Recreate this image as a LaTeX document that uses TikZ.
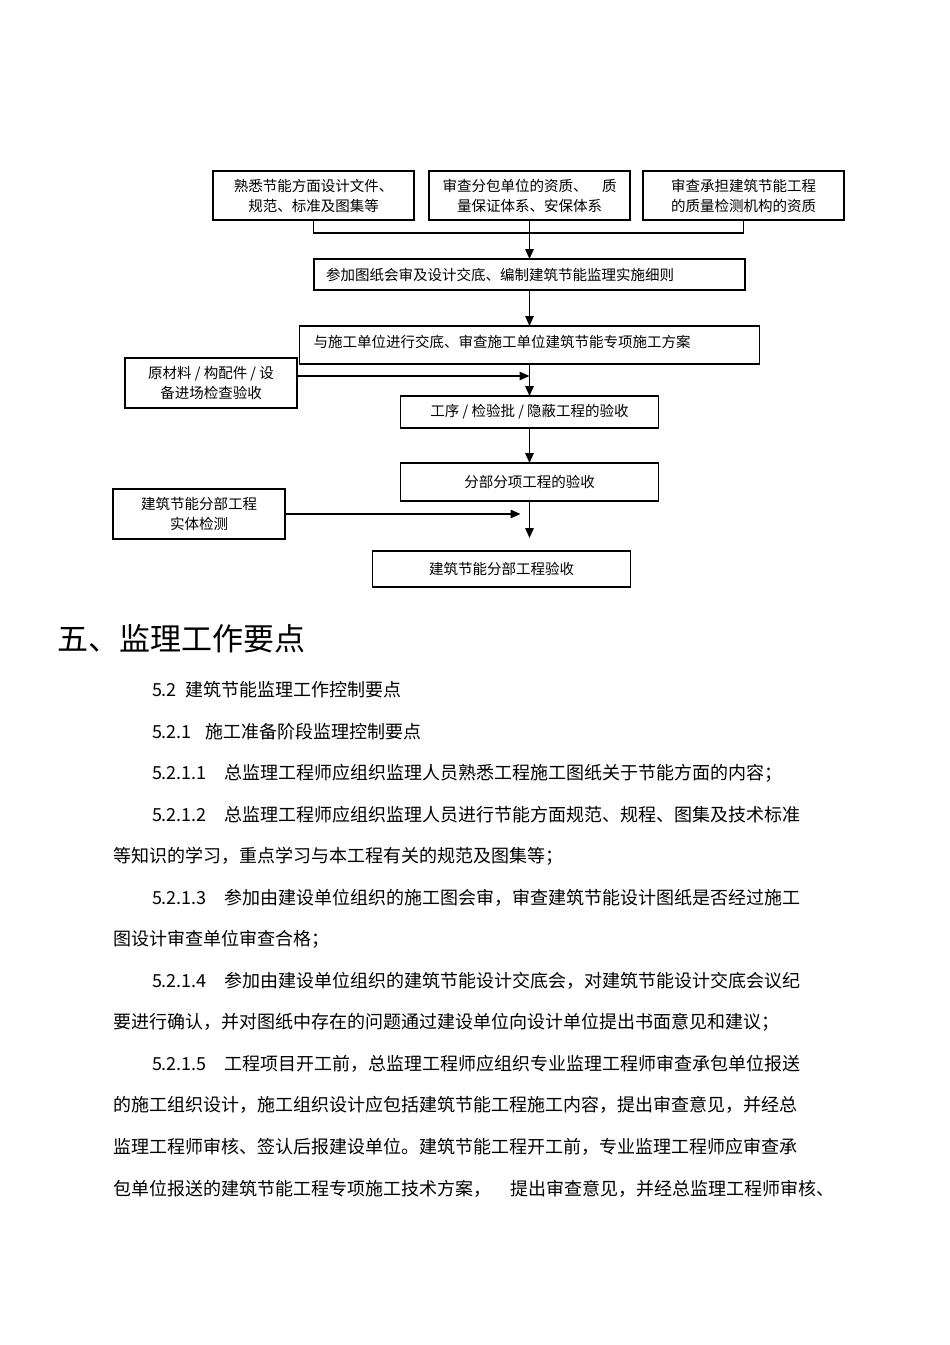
\documentclass[tikz,border=0pt]{standalone}
\usepackage{fontspec}
\setmainfont{Noto Sans CJK SC}
\usetikzlibrary{arrows.meta,positioning,calc}
\newcommand{\bodysize}{\fontsize{18pt}{18pt}\selectfont}
\newcommand{\boxsize}{\fontsize{14.5pt}{20pt}\selectfont}
\newcommand{\headsize}{\fontsize{31pt}{31pt}\selectfont}

\begin{document}
\begin{tikzpicture}[x=1pt,y=-1pt, every node/.style={inner sep=0pt,outer sep=0pt}, b/.style={draw,line width=1.1pt,align=center,font=\boxsize}, a/.style={-{Triangle[length=10pt,width=8.5pt]},line width=1.4pt}, p/.style={anchor=base west,font=\bodysize}]
\fill[white] (0,0) rectangle (950,1345);
\useasboundingbox (0,0) rectangle (950,1345);
% flow chart
\node[b,minimum width=201pt,minimum height=49pt] (rev) at (529.5,195.5) {审查分包单位的资质、\hspace{1em}质\\量保证体系、安保体系};
\node[b,minimum width=201pt,minimum height=49pt,left=15pt of rev,text width=180pt] (doc) {熟悉节能方面设计文件、\\规范、标准及图集等};
\node[b,minimum width=201pt,minimum height=49pt,right=13pt of rev,text width=180pt] (lab) {审查承担建筑节能工程\\的质量检测机构的资质};
\node[b,minimum width=431pt,minimum height=31pt,text width=407pt,align=left,below=39pt of rev] (plan) {参加图纸会审及设计交底、编制建筑节能监理实施细则};
\node[b,minimum width=460pt,minimum height=38pt,text width=432pt,text depth=8pt,align=left,below=36pt of plan] (brief) {与施工单位进行交底、审查施工单位建筑节能专项施工方案};
\node[b,minimum width=258pt,minimum height=32pt,below=32pt of brief] (proc) {工序 / 检验批 / 隐蔽工程的验收};
\node[b,minimum width=258pt,minimum height=38pt,below=35pt of proc] (sub) {分部分项工程的验收};
\node[b,minimum width=258pt,minimum height=36pt,below=50pt of sub,xshift=-28pt] (fin) {建筑节能分部工程验收};
\node[b,minimum width=172pt,minimum height=50pt] (mat) at (211,383) {原材料 / 构配件 / 设\\备进场检查验收};
\node[b,minimum width=172pt,minimum height=50pt] (test) at (199,514) {建筑节能分部工程\\实体检测};
\draw[line width=1.4pt] (doc.south) -- ++(0,13) -| (lab.south);
\draw[a] (rev.south) -- (plan.north);
\draw[a] (plan.south) -- (brief.north);
\draw[a] (brief.south) -- (proc.north);
\coordinate (m1) at ($(brief.south)!0.375!(proc.north)$);
\draw[a] (mat.east |- m1) -- (m1);
\draw[a] (proc.south) -- (sub.north);
\draw[a] (sub.south) -- ([yshift=13pt]sub.south |- fin.north);
\draw[a] (test.east) -- ([xshift=-9pt]sub.south |- test.east);
% text
\node[anchor=base west,font=\headsize] (head) at (57,650) {五、监理工作要点};
\node[p] (t1) at (152,696) {5.2\hspace{0.5em}建筑节能监理工作控制要点};
\node[p] (t2) at (152,738) {5.2.1\hspace{0.75em}施工准备阶段监理控制要点};
\node[p] (t3) at (152,779) {5.2.1.1\hspace{1em}总监理工程师应组织监理人员熟悉工程施工图纸关于节能方面的内容；};
\node[p] (t4) at (152,821) {5.2.1.2\hspace{1em}总监理工程师应组织监理人员进行节能方面规范、规程、图集及技术标准};
\node[p] (t5) at (113,862) {等知识的学习，重点学习与本工程有关的规范及图集等；};
\node[p] (t6) at (152,904) {5.2.1.3\hspace{1em}参加由建设单位组织的施工图会审，审查建筑节能设计图纸是否经过施工};
\node[p] (t7) at (113,945) {图设计审查单位审查合格；};
\node[p] (t8) at (152,987) {5.2.1.4\hspace{1em}参加由建设单位组织的建筑节能设计交底会，对建筑节能设计交底会议纪};
\node[p] (t9) at (113,1028) {要进行确认，并对图纸中存在的问题通过建设单位向设计单位提出书面意见和建议；};
\node[p] (t10) at (152,1070) {5.2.1.5\hspace{1em}工程项目开工前，总监理工程师应组织专业监理工程师审查承包单位报送};
\node[p] (t11) at (113,1111) {的施工组织设计，施工组织设计应包括建筑节能工程施工内容，提出审查意见，并经总};
\node[p] (t12) at (113,1153) {监理工程师审核、签认后报建设单位。建筑节能工程开工前，专业监理工程师应审查承};
\node[p] (t13) at (113,1195) {包单位报送的建筑节能工程专项施工技术方案，\hspace{1.1em}提出审查意见，并经总监理工程师审核、};
\end{tikzpicture}
\end{document}
